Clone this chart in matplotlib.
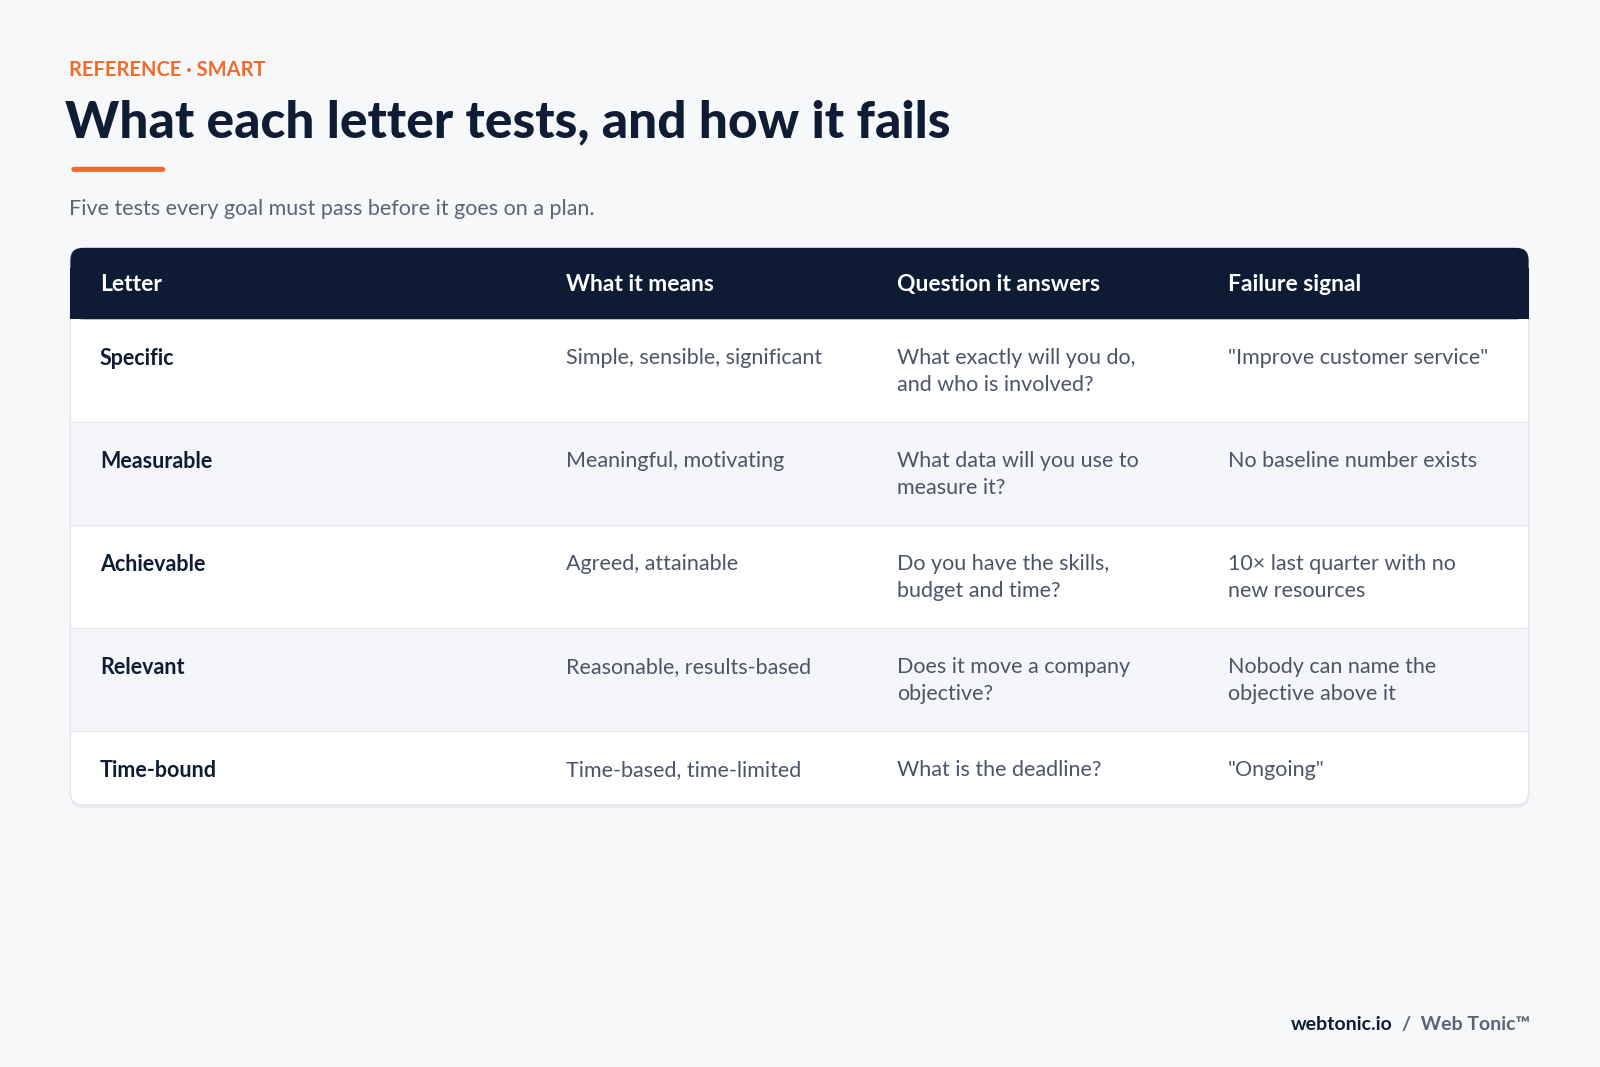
import matplotlib
matplotlib.use("Agg")
import matplotlib.pyplot as plt
from matplotlib.patches import FancyBboxPatch, Rectangle

plt.rcParams['font.family'] = ['Lato', 'DejaVu Sans']

eyebrow = "REFERENCE · SMART"
title = "What each letter tests, and how it fails"
subtitle = "Five tests every goal must pass before it goes on a plan."
headers = ["Letter", "What it means", "Question it answers", "Failure signal"]
letters = ["Specific", "Measurable", "Achievable", "Relevant", "Time-bound"]
meanings = ["Simple, sensible, significant", "Meaningful, motivating", "Agreed, attainable",
            "Reasonable, results-based", "Time-based, time-limited"]
questions = ["What exactly will you do,\nand who is involved?", "What data will you use to\nmeasure it?",
             "Do you have the skills,\nbudget and time?", "Does it move a company\nobjective?",
             "What is the deadline?"]
failures = ["\"Improve customer service\"", "No baseline number exists",
            "10× last quarter with no\nnew resources", "Nobody can name the\nobjective above it", "\"Ongoing\""]

W, H = 1568, 1046
fig = plt.figure(figsize=(16, 10.67), dpi=100)
fig.patch.set_facecolor('#F6F8FA')
ax = fig.add_axes([0, 0, 1, 1])
ax.set_xlim(0, W); ax.set_ylim(H, 0); ax.axis('off')

NAVY = '#0F1C33'; GRAY = '#4B5567'; ORANGE = '#F26B2A'
ax.text(68, 69, eyebrow, color=ORANGE, fontsize=14.5, fontweight='bold', va='center', ha='left')
ax.text(64, 121, title, color=NAVY, fontsize=37, fontweight='black', va='center', ha='left')
ax.add_patch(FancyBboxPatch((70, 163.5), 92, 5, boxstyle="round,pad=0,rounding_size=2.5",
                            fc=ORANGE, ec='none'))
ax.text(68, 205, subtitle, color='#5B6475', fontsize=15.5, va='center', ha='left')

x0, x1 = 69, 1498
top, hb = 243, 313
row_tops = [313, 414, 515, 616, 717]
bottom = 789
# shadow + body
ax.add_patch(FancyBboxPatch((x0, top + 3), x1 - x0, bottom - top, boxstyle="round,pad=0,rounding_size=12",
                            fc='#E9ECF0', ec='none', zorder=0))
ax.add_patch(FancyBboxPatch((x0, top), x1 - x0, bottom - top, boxstyle="round,pad=0,rounding_size=12",
                            fc='white', ec='#E3E7EC', lw=1, zorder=1))
ax.add_patch(FancyBboxPatch((x0, top), x1 - x0, hb - top, boxstyle="round,pad=0,rounding_size=12",
                            fc='#0D1B34', ec='none', zorder=2))
ax.add_patch(Rectangle((x0, top + 20), x1 - x0, hb - top - 20, fc='#0D1B34', ec='none', zorder=2))

cols = [98, 555, 879, 1203]
for c, h in zip(cols, headers):
    ax.text(c, 279, h, color='white', fontsize=16.5, fontweight='bold', va='center', ha='left', zorder=3)

ends = row_tops[1:] + [bottom]
for i, (rt, re_) in enumerate(zip(row_tops, ends)):
    if i % 2 == 1:
        ax.add_patch(Rectangle((x0 + 0.5, rt), x1 - x0 - 1, re_ - rt, fc='#F4F6F9', ec='none', zorder=2))
    if i > 0:
        ax.plot([x0, x1], [rt, rt], color='#E5E8ED', lw=1, zorder=3)
    y = rt + 38
    ax.text(cols[0], y, letters[i], color=NAVY, fontsize=15.5, fontweight='bold', va='center', zorder=4)
    for c, t in zip(cols[1:], [meanings[i], questions[i], failures[i]]):
        ax.text(c, y - 10, t, color=GRAY, fontsize=15.5, va='top', linespacing=1.45, zorder=4)

t1 = ax.text(1500, 1004, "/  Web Tonic™", color='#5B6475', fontsize=14, fontweight='bold',
             va='center', ha='right')
fig.canvas.draw()
bb = t1.get_window_extent().transformed(ax.transData.inverted())
ax.text(bb.x0 - 10, 1004, "webtonic.io", color=NAVY, fontsize=14, fontweight='bold', va='center', ha='right')

fig.savefig("out.png", dpi=100, facecolor=fig.get_facecolor())
